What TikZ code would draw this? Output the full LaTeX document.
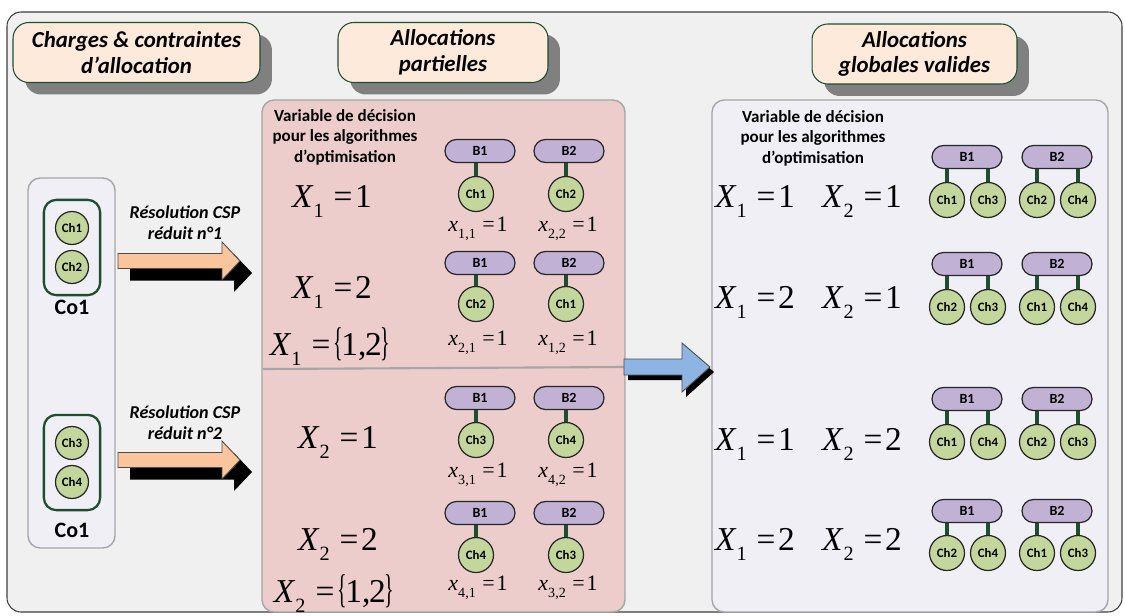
\documentclass[tikz,border=0pt]{standalone}
\usepackage{fontspec}
\newfontfamily\calibri{Carlito}
\newfontfamily\tnr{Liberation Serif}
\usepackage{graphicx}
\usepackage{tikz}
\usetikzlibrary{shadows,fit}

\definecolor{fondgris}{RGB}{240,240,240}
\definecolor{lavande}{RGB}{240,239,245}
\definecolor{rose}{RGB}{237,204,204}
\definecolor{peche}{RGB}{253,234,218}
\definecolor{vertfonce}{RGB}{30,78,48}
\definecolor{violet}{RGB}{192,177,213}
\definecolor{vertclair}{RGB}{195,214,155}
\definecolor{orangeclair}{RGB}{250,196,156}
\definecolor{bleuclair}{RGB}{142,180,227}
\definecolor{ombre}{RGB}{128,128,128}
\definecolor{bord}{RGB}{166,166,166}

% variables de decision (X_i = k) et d'allocation (x_{i,j} = 1)
\newcommand{\varX}[3]{\textit{#1}\raisebox{-0.32em}{\fontsize{11.5}{12}\selectfont #2}\hspace{0.3em}=\hspace{0.08em}#3}
\newcommand{\varx}[1]{\textit{x}\raisebox{-0.32em}{\fontsize{8}{9}\selectfont #1}\hspace{0.3em}=\hspace{0.08em}1}
\newcommand{\ensdeux}{\scalebox{0.6}[1.2]{\{}\kern-0.04em1,\kern-0.04em2\kern-0.04em\scalebox{0.6}[1.2]{\}}}

\tikzset{
  titre/.style={draw=vertfonce, fill=peche, rounded corners=9pt, line width=0.6pt,
    minimum height=1.2cm, align=center, inner sep=0pt,
    font=\calibri\bfseries\itshape\fontsize{13}{14.5}\selectfont,
    general shadow={fill=ombre, shadow xshift=0.24cm, shadow yshift=-0.24cm}},
  panneau/.style={draw=bord, line width=0.8pt, rounded corners=7pt},
  charge/.style={circle, draw=black!85, fill=vertclair, line width=0.7pt, minimum size=0.7cm,
    inner sep=0pt, font=\calibri\bfseries\fontsize{7.3}{8}\selectfont},
  bus/.style={draw=black!85, fill=violet, rounded corners=6.5pt, line width=0.7pt,
    minimum width=1.4cm, minimum height=0.46cm, inner sep=0pt,
    font=\calibri\bfseries\fontsize{8}{9}\selectfont},
  lien/.style={draw=vertfonce, line width=2pt},
  groupe/.style={draw=vertfonce, line width=1.3pt, rounded corners=7pt, inner sep=0.22cm},
  texte/.style={align=center, font=\calibri\bfseries\fontsize{9.7}{11.6}\selectfont},
  resol/.style={align=center, font=\calibri\bfseries\itshape\fontsize{10.3}{12}\selectfont},
  grandeq/.style={anchor=base, inner sep=0pt, font=\tnr\fontsize{19}{22}\selectfont},
  petiteq/.style={anchor=base, inner sep=0pt, font=\tnr\fontsize{12.5}{14}\selectfont},
}

\begin{document}
\begin{tikzpicture}[x=0.02cm,y=-0.02cm]
\useasboundingbox (0,0) rectangle (1125,615);
% cadre general
\draw[fill=fondgris, draw=black!75, line width=0.6pt, rounded corners=8pt] (7,12) rectangle (1122,612);

% titres
\node[titre, minimum width=4.94cm] (t1) at (136.5,52.5) {Charges \& contraintes\\d’allocation};
\node[titre, minimum width=4.2cm] (t2) at (443,52.5) {Allocations\\partielles};
\node[titre, minimum width=4.1cm] (t3) at (914.5,54) {Allocations\\globales valides};

% panneaux
\draw[panneau, fill=lavande] (28,178) rectangle (115,548);
\draw[panneau, fill=rose] (262,100) rectangle (625,612);
\draw[panneau, fill=lavande] (712,100) rectangle (1108,612);
\draw[draw=bord, line width=1.2pt] (263,369) -- (624,367);

% charges et contraintes
\node[charge, minimum size=0.66cm] (ch1) at (72,228) {Ch1};
\node[charge, minimum size=0.66cm] (ch2) at (72,267) {Ch2};
\node[charge, minimum size=0.66cm] (ch3) at (72,443) {Ch3};
\node[charge, minimum size=0.66cm] (ch4) at (72,482) {Ch4};
\node[groupe, fit=(ch1)(ch2)] (g1) {};
\node[groupe, fit=(ch3)(ch4)] (g2) {};
\node[font=\calibri\bfseries\fontsize{12.5}{14}\selectfont] (co1a) at (72,307) {Co1};
\node[font=\calibri\bfseries\fontsize{12.5}{14}\selectfont] (co1b) at (72,530) {Co1};

% fleches de resolution
\foreach \yc in {261,460} {
  \fill[black] (130,\yc+4.5) -- (234,\yc+4.5) -- (234,\yc-7) -- (252,\yc+12)
    -- (234,\yc+31) -- (234,\yc+19.5) -- (130,\yc+19.5) -- cycle;
  \draw[fill=orangeclair, draw=black!70, line width=0.5pt] (118,\yc-7.5) -- (222,\yc-7.5)
    -- (222,\yc-19) -- (240,\yc) -- (222,\yc+19) -- (222,\yc+7.5) -- (118,\yc+7.5) -- cycle;
}
\node[resol] (r1) at (185,222.5) {Résolution CSP\\réduit n°1};
\node[resol] (r2) at (185,422.5) {Résolution CSP\\réduit n°2};

% allocations partielles
\node[texte] (v1) at (345,137) {Variable de décision\\pour les algorithmes\\d’optimisation};
\node[grandeq] (e1) at (332,207) {\varX{X}{1}{1}};
\node[grandeq] (e2) at (332,298) {\varX{X}{1}{2}};
\node[grandeq] (e3) at (330,355) {\varX{X}{1}{\ensdeux}};
\node[grandeq] (e4) at (338,448) {\varX{X}{2}{1}};
\node[grandeq] (e5) at (338,550) {\varX{X}{2}{2}};
\node[grandeq] (e6) at (334,602) {\varX{X}{2}{\ensdeux}};
\foreach \yp/\yc/\yl/\ca/\cb/\la/\lb [count=\i] in
  {151/194/231/1/2/{1,1}/{2,2}, 263/304/345/2/1/{2,1}/{1,2},
   398/440/477/3/4/{3,1}/{4,2}, 513/555/590/4/3/{4,1}/{3,2}} {
  \node[bus] (pa\i) at (480,\yp) {B1};
  \node[bus] (pb\i) at (569,\yp) {B2};
  \node[charge] (ca\i) at (476,\yc) {Ch\ca};
  \node[charge] (cb\i) at (566,\yc) {Ch\cb};
  \draw[lien] (ca\i.north) -- (ca\i.north |- pa\i.south);
  \draw[lien] (cb\i.north) -- (cb\i.north |- pb\i.south);
  \node[petiteq] (xa\i) at (478,\yl) {\varx{\la}};
  \node[petiteq] (xb\i) at (568,\yl) {\varx{\lb}};
}

% fleche vers allocations globales
\fill[black] (628,364) -- (686,364) -- (686,348) -- (714,372) -- (686,397) -- (686,380) -- (628,380) -- cycle;
\draw[fill=bleuclair, draw=black!70, line width=0.5pt] (624,359) -- (682,359) -- (682,343)
  -- (710,367) -- (682,392) -- (682,375) -- (624,375) -- cycle;

% allocations globales valides
\node[texte] (v2) at (813,138) {Variable de décision\\pour les algorithmes\\d’optimisation};
\foreach \yp/\yc/\ye/\a/\b/\c/\d/\u/\v [count=\i] in
  {157/200/207/1/3/2/4/1/1, 264/307/308/2/3/1/4/2/1,
   399/442/450/1/4/2/3/1/2, 511/553/550/2/4/1/3/2/2} {
  \node[grandeq] (ga\i) at (755,\ye) {\varX{X}{1}{\u}};
  \node[grandeq] (gb\i) at (862,\ye) {\varX{X}{2}{\v}};
  \node[bus] (qa\i) at (967,\yp) {B1};
  \node[bus] (qb\i) at (1057,\yp) {B2};
  \node[charge] (da\i) at (947,\yc) {Ch\a};
  \node[charge] (db\i) at (988,\yc) {Ch\b};
  \node[charge] (dc\i) at (1037,\yc) {Ch\c};
  \node[charge] (dd\i) at (1078,\yc) {Ch\d};
  \draw[lien] (da\i.north) -- (da\i.north |- qa\i.south);
  \draw[lien] (db\i.north) -- (db\i.north |- qa\i.south);
  \draw[lien] (dc\i.north) -- (dc\i.north |- qb\i.south);
  \draw[lien] (dd\i.north) -- (dd\i.north |- qb\i.south);
}
\end{tikzpicture}
\end{document}
